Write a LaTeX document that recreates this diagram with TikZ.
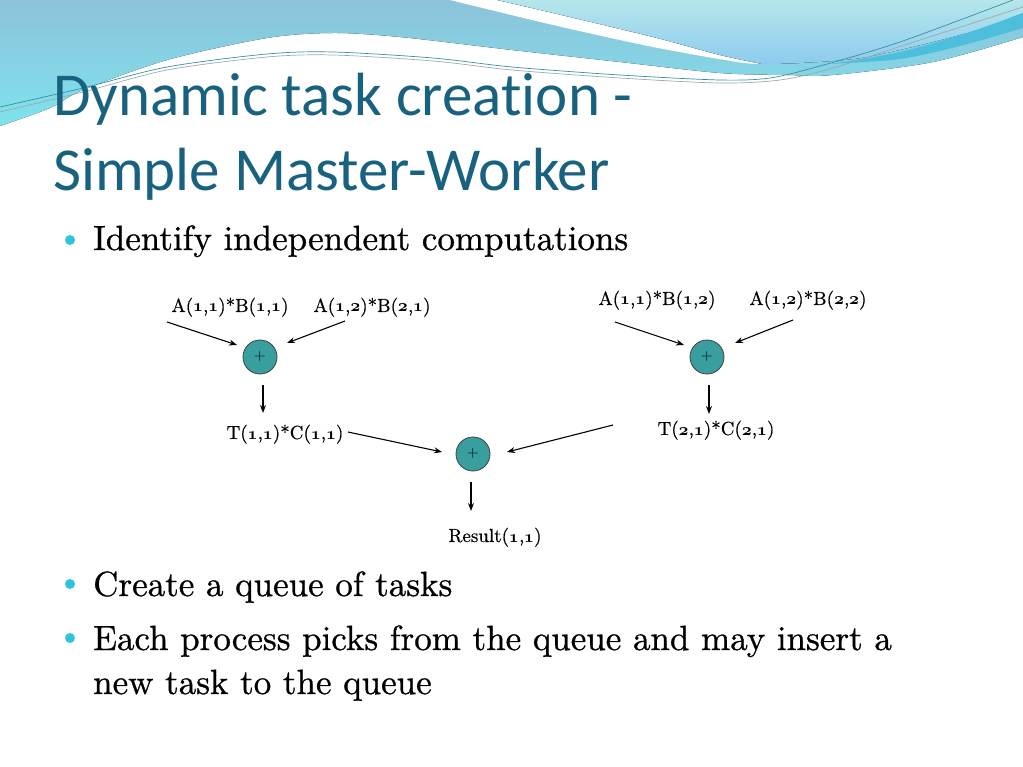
\documentclass[tikz,border=0pt]{standalone}
\usepackage{fontspec}
\newfontfamily\titlefont{Carlito}[Ligatures=NoCommon]
\newfontfamily\bodyfont{lmroman10-regular.otf}[FakeBold=0.8]
\newfontfamily\lblfont{lmroman10-regular.otf}[FakeBold=0.5]
\usetikzlibrary{arrows.meta}
\definecolor{hdrAtop}{HTML}{8CC3DB}
\definecolor{hdrAbot}{HTML}{7EE2EC}
\definecolor{hdrCtop}{HTML}{B5E6EB}
\definecolor{hdrCbot}{HTML}{8DCBEE}
\definecolor{hdrStripe}{HTML}{4DBFDD}
\definecolor{titlec}{HTML}{18627F}
\definecolor{bulletc}{HTML}{2EC4DA}
\definecolor{plusfill}{HTML}{389E9E}
\definecolor{linetealc}{HTML}{3A8FA0}
\definecolor{linegrayc}{HTML}{9AAAB0}
\newcommand\osn[1]{{\usefont{OML}{cmm}{b}{it}#1}}
\tikzset{
  titletext/.style={anchor=base west, inner sep=0, text=titlec, font=\titlefont\fontsize{61}{72}\selectfont},
  bodytext/.style={anchor=base west, inner sep=0, font=\bodyfont\fontsize{35}{40}\selectfont},
  bulletdot/.style={circle, fill=bulletc, minimum size=10pt, inner sep=0},
  lbl/.style={anchor=base, inner sep=0, font=\lblfont\fontsize{19}{23}\selectfont},
  plusnode/.style={circle, fill=plusfill, draw=black!75, line width=0.8pt, minimum size=34pt, inner sep=0, font=\fontsize{16}{18}\selectfont},
  conn/.style={line width=1.1pt, -{Stealth[length=8pt,width=6pt]}},
  thinline/.style={line width=0.7pt}
}
\begin{document}
\begin{tikzpicture}[x=1pt,y=-1pt]
\useasboundingbox (0,0) rectangle (1023,767);
\fill[white] (0,0) rectangle (1023,767);
% header region A
\fill[top color=hdrAtop, bottom color=hdrAbot] (0,0) -- (1023,0) -- plot[smooth] coordinates {(1023,37) (933,62) (833,75) (787,75) (720,73) (620,62) (512,50) (400,37) (333,33) (267,38) (167,60) (83,90) (50,108) (0,126)} -- cycle;
% white streak
\fill[white] plot[smooth] coordinates {(450,0) (553,25) (653,47) (737,62) (762,64)} -- plot[smooth] coordinates {(762,64) (720,55) (653,37) (553,13) (497,0)} -- cycle;
% region C
\fill[top color=hdrCtop, bottom color=hdrCbot] (497,0) -- (1023,0) -- plot[smooth] coordinates {(1023,13) (967,33) (867,57) (800,63) (762,64)} -- plot[smooth] coordinates {(762,64) (720,55) (653,37) (553,13) (497,0)} -- cycle;
% dark stripe
\fill[hdrStripe] plot[smooth] coordinates {(830,64) (900,52) (967,33) (1023,13)} -- plot[smooth] coordinates {(1023,28) (960,46) (900,59) (830,64)} -- cycle;
% thin lines
\draw[thinline, linetealc] plot[smooth] coordinates {(0,107) (83,88) (167,67) (267,54) (333,52) (433,58) (512,67) (620,75) (720,80) (770,78) (820,66) (900,42) (1013,0)};
\draw[thinline, linegrayc] plot[smooth] coordinates {(0,112) (83,92) (167,70) (267,57) (333,55) (433,61) (512,70) (620,78) (720,83) (780,80) (833,68) (920,40) (1023,7)};
% title
\node[titletext] (t1) at (53,116) {Dynamic task creation -};
\node[titletext] (t2) at (53,191) {Simple Master-Worker};
% bullets
\node[bulletdot] (d1) at (70,240) {};
\node[bodytext] (b1) at (93,250) {Identify independent computations};
\node[bulletdot] (d2) at (70,584) {};
\node[bodytext] (b2) at (93,596) {Create a queue of tasks};
\node[bulletdot] (d3) at (70,638) {};
\node[bodytext] (b3) at (93,650) {Each process picks from the queue and may insert a};
\node[bodytext] (b4) at (93,694) {new task to the queue};
% diagram
\node[lbl] (a11) at (230,312) {A(\osn{1},\osn{1})*B(\osn{1},\osn{1})};
\node[lbl] (a12) at (372,312) {A(\osn{1},\osn{2})*B(\osn{2},\osn{1})};
\node[lbl] (a21) at (657,305) {A(\osn{1},\osn{1})*B(\osn{1},\osn{2})};
\node[lbl] (a22) at (808,305) {A(\osn{1},\osn{2})*B(\osn{2},\osn{2})};
\node[plusnode] (p1) at (260,357) {+};
\node[plusnode] (p2) at (707,357) {+};
\node[plusnode] (p3) at (473,454) {+};
\node[lbl] (tc1) at (285,439) {T(\osn{1},\osn{1})*C(\osn{1},\osn{1})};
\node[lbl] (tc2) at (716,435) {T(\osn{2},\osn{1})*C(\osn{2},\osn{1})};
\node[lbl] (res) at (495,542) {Result(\osn{1},\osn{1})};
% connector end points
\coordinate (s1) at (167,322); \coordinate (e1) at (237,345);
\coordinate (s2) at (345,321); \coordinate (e2) at (287,343);
\coordinate (s3) at (263,385); \coordinate (e3) at (263,413);
\coordinate (s4) at (615,322); \coordinate (e4) at (684,345);
\coordinate (s5) at (793,320); \coordinate (e5) at (735,343);
\coordinate (s6) at (709,385); \coordinate (e6) at (709,414);
\coordinate (s7) at (348,432); \coordinate (e7) at (442,452);
\coordinate (s8) at (613,425); \coordinate (e8) at (507,452);
\coordinate (s9) at (471,482); \coordinate (e9) at (471,511);
\draw[conn] (s1) -- (e1);
\draw[conn] (s2) -- (e2);
\draw[conn] (s3) -- (e3);
\draw[conn] (s4) -- (e4);
\draw[conn] (s5) -- (e5);
\draw[conn] (s6) -- (e6);
\draw[conn] (s7) -- (e7);
\draw[conn] (s8) -- (e8);
\draw[conn] (s9) -- (e9);
\end{tikzpicture}
\end{document}
